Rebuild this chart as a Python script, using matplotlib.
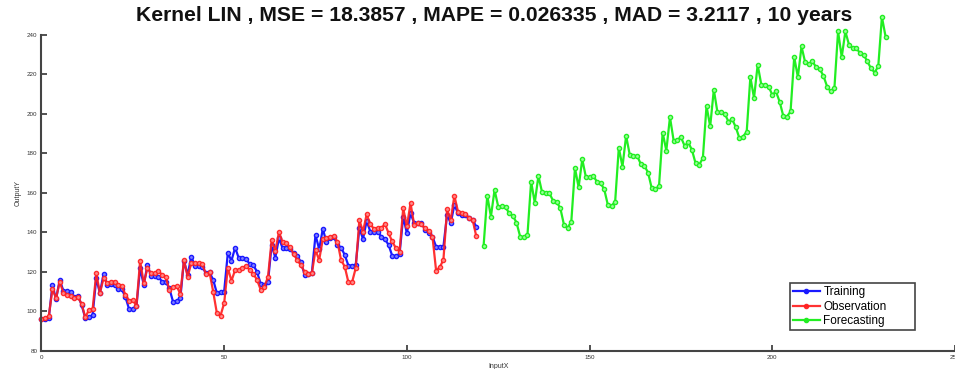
import matplotlib
matplotlib.use("Agg")
import matplotlib.pyplot as plt
import numpy as np

# Monthly series: training fit, observed values and the 10-year forecast
training = [
    96.0, 96.0, 96.5,
    113.4, 106.2, 116.0, 110.5, 110.4, 110.0, 107.2, 107.9, 103.3, 96.6, 97.1, 98.2,
    116.8, 109.3, 119.0, 113.4, 113.8, 113.4, 111.2, 111.2, 107.2, 101.1, 101.1, 102.8,
    121.9, 113.4, 123.5, 118.0, 118.1, 117.6, 115.1, 115.1, 111.7, 105.0, 105.4, 106.7,
    125.7, 118.5, 127.8, 123.0, 123.0, 122.7, 119.3, 119.8, 116.0, 109.3, 109.6, 110.1,
    129.5, 125.7, 132.3, 127.0, 127.0, 126.5, 124.0, 123.5, 120.0, 114.0, 113.5, 115.0,
    133.7, 127.2, 137.1, 132.0, 132.2, 131.5, 129.7, 128.2, 125.0, 118.7, 119.0, 119.5,
    138.7, 131.5, 141.8, 135.0, 137.2, 137.9, 133.7, 132.3, 128.6, 123.2, 123.2, 123.5,
    142.1, 136.7, 145.8, 140.4, 140.4, 140.4, 137.9, 136.5, 133.7, 128.1, 128.1, 129.1,
    148.0, 139.6, 149.7, 144.7, 144.7, 144.7, 141.3, 139.6, 137.9, 132.8, 132.8, 132.8,
    148.9, 144.7, 153.9, 149.7, 149.0, 149.0, 147.2, 146.3, 142.9,
]
observation = [
    96.0, 96.5, 97.5,
    111.2, 106.8, 115.0, 109.5, 108.4, 108.0, 106.8, 107.2, 103.8, 97.0, 100.8, 101.1,
    119.3, 109.3, 116.8, 114.3, 115.1, 115.1, 113.4, 112.9, 108.4, 105.4, 105.8, 102.8,
    125.7, 114.3, 121.9, 119.3, 119.3, 120.6, 118.5, 117.6, 110.9, 112.6, 112.9, 108.8,
    126.0, 117.6, 124.4, 124.4, 124.4, 124.0, 119.0, 119.8, 110.0, 99.2, 97.9, 104.2,
    122.0, 115.5, 121.0, 121.0, 122.0, 123.0, 121.0, 119.0, 116.0, 111.0, 112.5, 117.5,
    136.2, 130.7, 140.2, 135.0, 134.6, 132.5, 129.2, 126.0, 123.5, 120.0, 119.2, 119.3,
    131.1, 126.0, 136.7, 137.0, 137.9, 138.2, 135.3, 126.0, 122.7, 114.8, 114.8, 121.9,
    146.3, 140.4, 149.2, 144.1, 141.8, 142.0, 142.1, 144.3, 139.6, 135.4, 132.0, 130.3,
    152.2, 143.0, 154.8, 143.9, 144.7, 144.0, 142.0, 140.9, 137.9, 120.7, 122.4, 126.1,
    151.7, 146.3, 158.5, 150.5, 149.7, 149.5, 147.2, 146.3, 138.0,
]
forecasting = [
    133.3,
    158.6, 148.0, 161.5, 153.0, 153.4, 152.8, 149.7, 148.4, 145.0, 137.9, 137.6, 138.7,
    165.7, 155.0, 168.6, 160.3, 159.8, 159.8, 156.1, 155.4, 152.2, 143.8, 142.4, 145.5,
    172.5, 162.9, 177.0, 167.9, 167.9, 168.6, 165.7, 164.9, 161.9, 153.9, 153.4, 155.6,
    182.9, 173.3, 188.9, 179.2, 178.7, 178.7, 174.7, 173.7, 170.3, 162.4, 161.9, 163.5,
    190.5, 181.4, 198.3, 186.5, 186.8, 188.2, 183.8, 185.5, 181.8, 175.0, 174.2, 177.6,
    204.0, 193.6, 212.2, 200.7, 200.7, 200.0, 196.1, 197.3, 193.3, 187.7, 188.5, 191.0,
    218.6, 208.0, 224.8, 214.7, 214.7, 213.8, 209.6, 211.3, 206.2, 199.0, 198.6, 201.2,
    228.7, 218.6, 234.1, 226.0, 225.3, 226.5, 223.6, 222.6, 219.2, 213.8, 211.3, 213.0,
    241.7, 228.7, 241.7, 234.9, 233.3, 233.3, 230.7, 229.9, 226.5, 223.1, 220.9, 224.0,
    249.0, 239.1,
]
train_start = 0
forecast_start = 121
x_ticks = [0, 50, 100, 150, 200, 250]
y_ticks = [80, 100, 120, 140, 160, 180, 200, 220, 240]
title = "Kernel LIN , MSE = 18.3857 , MAPE = 0.026335 , MAD = 3.2117 , 10 years"

plt.rcParams['font.family'] = ['Liberation Sans', 'DejaVu Sans']

fig = plt.figure(figsize=(9.55, 3.69), dpi=100)
ax = fig.add_axes([0.0434, 0.0488, 0.9566, 0.857])

x_train = np.arange(train_start, train_start + len(training))
x_obs = np.arange(train_start, train_start + len(observation))
x_fc = np.arange(forecast_start, forecast_start + len(forecasting))

style = dict(marker='o', markersize=3.0, markeredgewidth=1.0,
             linewidth=1.6, clip_on=False)
ax.plot(x_train, training, color='#1a1aff', markerfacecolor='#8080ff',
        label='Training', **style)
ax.plot(x_obs, observation, color='#ff2020', markerfacecolor='#ff9090',
        label='Observation', alpha=0.92, **style)
ax.plot(x_fc, forecasting, color='#22ee22', markerfacecolor='#99ff99',
        label='Forecasting', **style)

ax.set_xlim(0, 250)
ax.set_ylim(80, 240)
ax.set_xticks(x_ticks)
ax.set_yticks(y_ticks)
ax.tick_params(direction='in', length=4, width=1.2, labelsize=4.5,
               colors='#333333', pad=3)
for side in ('top', 'right'):
    ax.spines[side].set_visible(False)
for side in ('left', 'bottom'):
    ax.spines[side].set_linewidth(1.5)
    ax.spines[side].set_color('#444444')

ax.set_xlabel('InputX', fontsize=5, color='#333333', labelpad=2)
ax.set_ylabel('OutputY', fontsize=5, color='#333333', labelpad=4)

fig.text(0.517, 0.958, title, ha='center', va='center',
         fontsize=15.2, fontweight='bold', color='#111111')

leg = ax.legend(loc='lower left', bbox_to_anchor=(0.819, 0.066, 0.137, 0.152),
                mode='expand', fontsize=8.5, handlelength=2.3, handletextpad=0.3,
                labelspacing=0.2, borderpad=0.25, borderaxespad=0.0,
                fancybox=False, framealpha=1, edgecolor='#444444')
leg.get_frame().set_linewidth(1.2)
for h in leg.get_lines():
    h.set_markerfacecolor(h.get_color())
    h.set_markersize(3)

fig.savefig('out.png', dpi=100)
